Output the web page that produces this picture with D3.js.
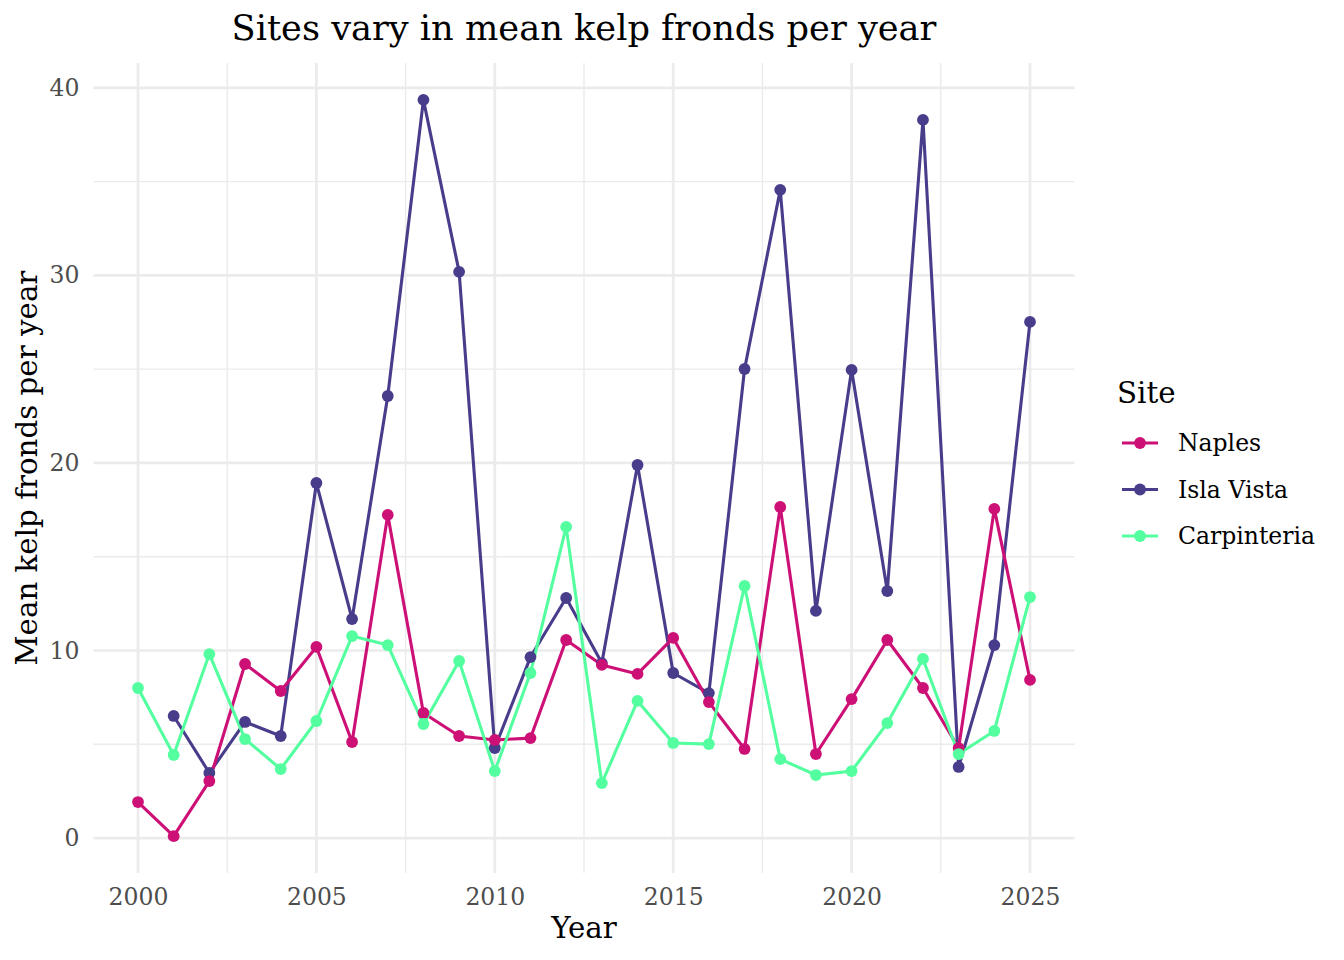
<!DOCTYPE html>
<html>
<head>
<meta charset="utf-8">
<script src="https://cdn.jsdelivr.net/npm/d3@7"></script>
<style>
  html, body { margin: 0; padding: 0; background: #ffffff; }
  svg { display: block; }
</style>
</head>
<body>
<svg id="chart" width="1344" height="960"></svg>
<script>
// ---- Data ----
const years = [2000, 2001, 2002, 2003, 2004, 2005, 2006, 2007, 2008, 2009, 2010, 2011, 2012,
               2013, 2014, 2015, 2016, 2017, 2018, 2019, 2020, 2021, 2022, 2023, 2024, 2025];
const naples = [1.92, 0.1, 3.04, 9.28, 7.84, 10.19, 5.12, 17.23, 6.67, 5.44, 5.23, 5.33, 10.56,
                9.23, 8.75, 10.67, 7.25, 4.75, 17.65, 4.48, 7.41, 10.56, 8.0, 4.8, 17.55, 8.43];
const islaVista = [null, 6.51, 3.47, 6.19, 5.44, 18.93, 11.68, 23.57, 39.36, 30.19, 4.8, 9.65, 12.8,
                   9.33, 19.89, 8.8, 7.73, 25.01, 34.56, 12.11, 24.96, 13.17, 38.29, 3.79, 10.29, 27.52];
const carpinteria = [8.0, 4.43, 9.81, 5.28, 3.68, 6.24, 10.77, 10.29, 6.08, 9.44, 3.57, 8.8, 16.59,
                     2.93, 7.31, 5.07, 5.01, 13.44, 4.21, 3.36, 3.57, 6.13, 9.55, 4.48, 5.71, 12.85];
const siteNames = ["Naples", "Isla Vista", "Carpinteria"];
const siteColors = ["#CD1076", "#483D8B", "#54FF9F"];
const xTicks = [2000, 2005, 2010, 2015, 2020, 2025];
const yTicks = [0, 10, 20, 30, 40];
const titleText = "Sites vary in mean kelp fronds per year";
const xLabel = "Year";
const yLabel = "Mean kelp fronds per year";
const legendTitle = "Site";

// ---- Build series ----
const seriesValues = [naples, islaVista, carpinteria];
const series = siteNames.map((name, i) => ({
  name, color: siteColors[i],
  points: years.map((y, j) => ({ year: y, value: seriesValues[i][j] })).filter(d => d.value !== null)
}));
// draw order (last on top)
const drawOrder = [1, 0, 2];

const svg = d3.select("#chart");
const font = "'DejaVu Serif', serif";

const panel = { left: 93.4, right: 1074.6, top: 63, bottom: 873 };

const xExt = d3.extent(years);
const xPad = (xExt[1] - xExt[0]) * 0.05;
const x = d3.scaleLinear().domain([xExt[0] - xPad, xExt[1] + xPad]).range([panel.left, panel.right]);

const allVals = seriesValues.flat().filter(v => v !== null);
const yExt = d3.extent(allVals);
const yPad = (yExt[1] - yExt[0]) * 0.05;
const y = d3.scaleLinear().domain([yExt[0] - yPad, yExt[1] + yPad]).range([panel.bottom, panel.top]);

// ---- Grid ----
const grid = svg.append("g");
const xMinor = d3.range(xTicks[0] - 2.5, xTicks[xTicks.length - 1] + 5, 5).filter(v => v > x.domain()[0] && v < x.domain()[1]);
const yMinor = d3.range(yTicks[0] - 5, yTicks[yTicks.length - 1] + 10, 10).filter(v => v > y.domain()[0] && v < y.domain()[1]);

grid.selectAll(".xminor").data(xMinor).join("line")
  .attr("x1", d => x(d)).attr("x2", d => x(d)).attr("y1", panel.top).attr("y2", panel.bottom)
  .attr("stroke", "#EBEBEB").attr("stroke-width", 1.4);
grid.selectAll(".yminor").data(yMinor).join("line")
  .attr("y1", d => y(d)).attr("y2", d => y(d)).attr("x1", panel.left).attr("x2", panel.right)
  .attr("stroke", "#EBEBEB").attr("stroke-width", 1.4);
grid.selectAll(".xmajor").data(xTicks).join("line")
  .attr("x1", d => x(d)).attr("x2", d => x(d)).attr("y1", panel.top).attr("y2", panel.bottom)
  .attr("stroke", "#EBEBEB").attr("stroke-width", 2.7);
grid.selectAll(".ymajor").data(yTicks).join("line")
  .attr("y1", d => y(d)).attr("y2", d => y(d)).attr("x1", panel.left).attr("x2", panel.right)
  .attr("stroke", "#EBEBEB").attr("stroke-width", 2.7);

// ---- Axes (tick labels via d3 axes, no domain/ticks) ----
const xAxis = svg.append("g").attr("transform", `translate(0,${panel.bottom})`)
  .call(d3.axisBottom(x).tickValues(xTicks).tickFormat(d3.format("d")).tickSize(0).tickPadding(15));
const yAxis = svg.append("g").attr("transform", `translate(${panel.left},0)`)
  .call(d3.axisLeft(y).tickValues(yTicks).tickFormat(d3.format("d")).tickSize(0).tickPadding(14));
[xAxis, yAxis].forEach(a => {
  a.select(".domain").remove();
  a.selectAll("text").attr("font-family", font).attr("font-size", 23.5).attr("fill", "#4D4D4D");
});

// ---- Lines & points ----
const line = d3.line().x(d => x(d.year)).y(d => y(d.value));
const lineG = svg.append("g");
drawOrder.forEach(i => {
  lineG.append("path").datum(series[i].points)
    .attr("d", line).attr("fill", "none")
    .attr("stroke", series[i].color).attr("stroke-width", 3.1)
    .attr("stroke-linejoin", "round");
});
const ptG = svg.append("g");
drawOrder.forEach(i => {
  ptG.selectAll(null).data(series[i].points).join("circle")
    .attr("cx", d => x(d.year)).attr("cy", d => y(d.value)).attr("r", 5.9)
    .attr("fill", series[i].color);
});

// ---- Titles ----
svg.append("text").attr("x", (panel.left + panel.right) / 2).attr("y", 40)
  .attr("text-anchor", "middle").attr("font-family", font).attr("font-size", 35.2)
  .attr("fill", "#000").text(titleText);
svg.append("text").attr("x", (panel.left + panel.right) / 2).attr("y", 938)
  .attr("text-anchor", "middle").attr("font-family", font).attr("font-size", 29.3)
  .attr("fill", "#000").text(xLabel);
svg.append("text").attr("transform", `translate(37,${(panel.top + panel.bottom) / 2}) rotate(-90)`)
  .attr("text-anchor", "middle").attr("font-family", font).attr("font-size", 29.3)
  .attr("fill", "#000").text(yLabel);

// ---- Legend ----
const leg = svg.append("g");
leg.append("text").attr("x", 1117).attr("y", 403).attr("font-family", font).attr("font-size", 29.3)
  .attr("fill", "#000").text(legendTitle);
const legY = d3.scalePoint().domain(siteNames).range([443, 536]);
siteNames.forEach((name, i) => {
  const yy = legY(name);
  leg.append("line").attr("x1", 1122).attr("x2", 1158).attr("y1", yy).attr("y2", yy)
    .attr("stroke", siteColors[i]).attr("stroke-width", 3.1);
  leg.append("circle").attr("cx", 1140).attr("cy", yy).attr("r", 5.9).attr("fill", siteColors[i]);
  leg.append("text").attr("x", 1178).attr("y", yy).attr("dy", "0.35em")
    .attr("font-family", font).attr("font-size", 23.5).attr("fill", "#000").text(name);
});
</script>
</body>
</html>
